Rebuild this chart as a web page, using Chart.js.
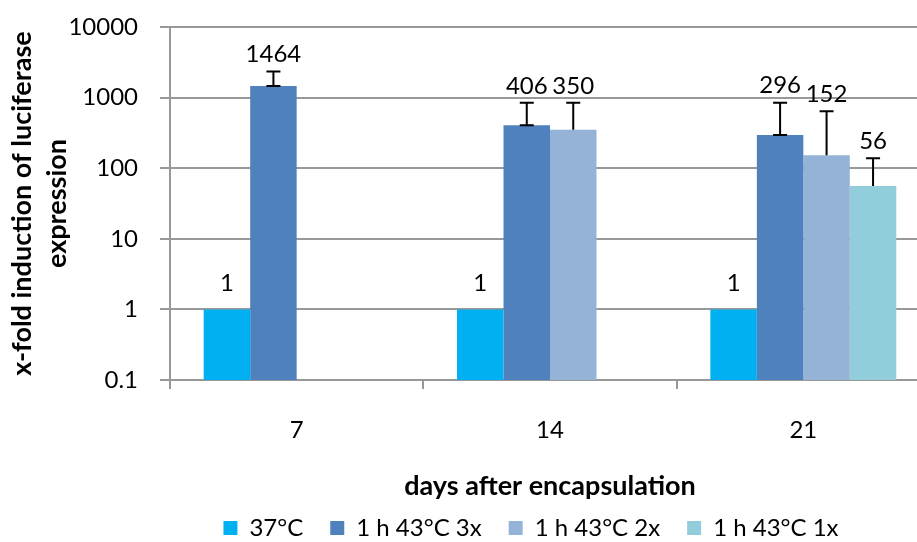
<!DOCTYPE html>
<html>
<head>
<meta charset="utf-8">
<script src="https://cdn.jsdelivr.net/npm/chart.js@4/dist/chart.umd.min.js"></script>
<style>
  html, body { margin: 0; padding: 0; background: #fff; overflow: hidden; }
  canvas { display: block; }
</style>
</head>
<body>
<canvas id="chart" width="1062" height="542"></canvas>
<script>
// Days after encapsulation (categories)
const days = ['7', '14', '21'];
// Series names
const seriesNames = ['37°C', '1 h 43°C 3x', '1 h 43°C 2x', '1 h 43°C 1x'];
// x-fold induction values per series
const control37 = [1, 1, 1];
const heat3x = [1464, 406, 296];
const heat2x = [null, 350, 152];
const heat1x = [null, null, 56];
// Upper error (standard deviation) per series
const sd37 = [null, null, null];
const sd3x = [880, 436, 550];
const sd2x = [null, 492, 489];
const sd1x = [null, null, 82];
// Log axis tick values
const yTickValues = [0.1, 1, 10, 100, 1000, 10000];

const seriesColors = ['#00B0F0', '#4F81BD', '#95B3D7', '#92CDDC'];
const FONT = 'Lato, "Open Sans", sans-serif';
Chart.defaults.font.family = FONT;
Chart.defaults.color = '#000';

const values = [control37, heat3x, heat2x, heat1x];
const errors = [sd37, sd3x, sd2x, sd1x];

const datasets = seriesNames.map((name, i) => ({
  label: name,
  data: values[i],
  errorPlus: errors[i],
  capAtBar: i === 1,
  backgroundColor: seriesColors[i],
  borderWidth: 0,
  categoryPercentage: 0.734,
  barPercentage: 1.0
}));

// Draws upper error bars and value labels above each bar
const annotateBars = {
  id: 'annotateBars',
  afterDatasetsDraw(chart) {
    const ctx = chart.ctx;
    const yScale = chart.scales.y;
    ctx.save();
    chart.data.datasets.forEach((ds, di) => {
      const meta = chart.getDatasetMeta(di);
      meta.data.forEach((bar, j) => {
        const v = ds.data[j];
        if (v == null) return;
        const sd = ds.errorPlus ? ds.errorPlus[j] : null;
        let labelY;
        if (sd != null) {
          const topY = yScale.getPixelForValue(v + sd);
          ctx.strokeStyle = '#000';
          ctx.lineWidth = 2;
          ctx.beginPath();
          ctx.moveTo(bar.x, bar.y);
          ctx.lineTo(bar.x, topY);
          ctx.moveTo(bar.x - 7, topY);
          ctx.lineTo(bar.x + 7, topY);
          if (ds.capAtBar) {
            ctx.moveTo(bar.x - 7, bar.y);
            ctx.lineTo(bar.x + 7, bar.y);
          }
          ctx.stroke();
          labelY = topY - 17;
        } else {
          labelY = bar.y - 26;
        }
        ctx.fillStyle = '#000';
        ctx.font = '24px ' + FONT;
        ctx.textAlign = 'center';
        ctx.textBaseline = 'middle';
        ctx.fillText(String(v), bar.x, labelY);
      });
    });
    ctx.restore();
  }
};

new Chart(document.getElementById('chart'), {
  type: 'bar',
  data: { labels: days, datasets },
  options: {
    responsive: false,
    animation: false,
    devicePixelRatio: 1,
    layout: { padding: { top: 0, left: 0, right: 0, bottom: -8 } },
    plugins: {
      tooltip: { enabled: false },
      legend: {
        position: 'bottom',
        labels: {
          boxWidth: 14,
          boxHeight: 14,
          padding: 27,
          color: '#000',
          font: { size: 24, family: FONT }
        }
      }
    },
    scales: {
      x: {
        grid: {
          display: true,
          offset: true,
          drawOnChartArea: false,
          drawTicks: true,
          tickLength: 9,
          color: '#989898',
          lineWidth: 2
        },
        border: { display: true, color: '#989898', width: 2 },
        ticks: { padding: 27, color: '#000', font: { size: 24, family: FONT } },
        title: {
          display: true,
          text: 'days after encapsulation',
          color: '#000',
          font: { size: 27, weight: 'bold', family: FONT },
          padding: { top: 0, bottom: -13 }
        },
        afterFit(scale) { scale.height = 109; }
      },
      y: {
        type: 'logarithmic',
        min: 0.1,
        max: 10000,
        grid: {
          color: '#989898',
          lineWidth: 2,
          tickLength: 10
        },
        border: { display: true, color: '#989898', width: 2 },
        ticks: {
          padding: 22,
          color: '#000',
          font: { size: 24, family: FONT },
          callback: (value) => String(value)
        },
        afterBuildTicks(scale) {
          scale.ticks = yTickValues.map(v => ({ value: v }));
        },
        title: {
          display: true,
          text: ['x-fold induction of luciferase', 'expression'],
          color: '#000',
          font: { size: 27, weight: 'bold', family: FONT, lineHeight: 1.3 },
          padding: { top: 5, bottom: 0 }
        },
        afterFit(scale) {
          scale.width = 170;
          scale.paddingTop = 27;
          scale.paddingBottom = 0;
        }
      },
      spacer: {
        type: 'linear',
        position: 'right',
        display: true,
        grid: { display: false, drawTicks: false },
        border: { display: false },
        ticks: { display: false },
        afterFit(scale) {
          scale.width = 132;
          scale.paddingTop = 0;
          scale.paddingBottom = 0;
        }
      }
    }
  },
  plugins: [annotateBars]
});
</script>
</body>
</html>
